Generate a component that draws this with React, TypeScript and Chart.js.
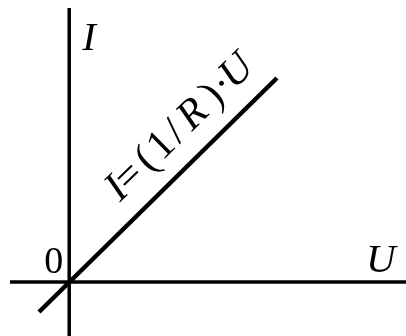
import { useEffect, useRef } from "react";
import { Chart, registerables } from "chart.js";

Chart.register(...registerables);

// Axis ranges (abstract units)
const uRange = [-1.5, 7.3];
const iRange = [-1.17, 6.11];

// Axis lines
const uAxisU = [-1.283, 7.3];
const uAxisI = [0, 0];
const iAxisU = [0, 0];
const iAxisI = [-1.17, 5.937];

// Characteristic line I = (1/R)·U
const lineU = [-0.655, 4.503];
const lineI = [-0.65, 4.42];

// Texts
const axisLabelU = "U";
const axisLabelI = "I";
const originLabel = "0";
const formulaParts = ["I", "=", "(", "1", "/", "R", ")", "·", "U"];
const formulaItalic = [true, false, false, false, false, true, false, false, true];

const FAMILY = "'Liberation Serif', 'Times New Roman', serif";

const pts = (xs: number[], ys: number[]) => xs.map((x, k) => ({ x, y: ys[k] }));

export default function App() {
  const ref = useRef<HTMLCanvasElement | null>(null);

  useEffect(() => {
    document.body.style.margin = "0";
    const canvas = ref.current;
    if (!canvas) return;

    const labelsPlugin = {
      id: "labelsPlugin",
      afterDatasetsDraw(c: any) {
        const ctx = c.ctx as CanvasRenderingContext2D;
        const xs = c.scales.x;
        const ys = c.scales.y;
        const ox = xs.getPixelForValue(0);
        const oy = ys.getPixelForValue(0);
        ctx.save();
        ctx.fillStyle = "#000";
        ctx.textBaseline = "alphabetic";

        // Axis labels
        ctx.font = "italic 41px " + FAMILY;
        ctx.textAlign = "left";
        ctx.fillText(axisLabelI, ox + 13, 50);
        ctx.fillText(axisLabelU, 366, oy - 10);
        ctx.font = "38px " + FAMILY;
        ctx.textAlign = "right";
        ctx.fillText(originLabel, ox - 6, oy - 9);

        // Formula along the line
        const x1 = xs.getPixelForValue(lineU[0]);
        const y1 = ys.getPixelForValue(lineI[0]);
        const x2 = xs.getPixelForValue(lineU[1]);
        const y2 = ys.getPixelForValue(lineI[1]);
        const ang = Math.atan2(y2 - y1, x2 - x1);
        const dx = Math.cos(ang);
        const dy = Math.sin(ang);
        const upx = dy;
        const upy = -dx;
        const along = 92;
        const off = 21;
        const px = ox + dx * along + upx * off;
        const py = oy + dy * along + upy * off;
        ctx.translate(px, py);
        ctx.rotate(ang);
        ctx.textAlign = "left";
        const pos = [0, 13, 42, 59, 83, 101, 134, 149, 160];
        formulaParts.forEach((t, k) => {
          ctx.font = (formulaItalic[k] ? "italic " : "") + "42px " + FAMILY;
          ctx.fillText(t, pos[k], 0);
        });
        ctx.restore();
      },
    };

    const chart = new Chart(canvas, {
      type: "scatter",
      data: {
        datasets: [
          {
            data: pts(uAxisU, uAxisI),
            showLine: true,
            borderColor: "#000",
            borderWidth: 3.5,
            pointRadius: 0,
            clip: false as any,
          },
          {
            data: pts(iAxisU, iAxisI),
            showLine: true,
            borderColor: "#000",
            borderWidth: 3.5,
            pointRadius: 0,
            clip: false as any,
          },
          {
            data: pts(lineU, lineI),
            showLine: true,
            borderColor: "#000",
            borderWidth: 4.5,
            pointRadius: 0,
            clip: false as any,
          },
        ],
      },
      options: {
        animation: false,
        responsive: false,
        maintainAspectRatio: false,
        layout: { padding: 0 },
        scales: {
          x: { type: "linear", min: uRange[0], max: uRange[1], display: false },
          y: { type: "linear", min: iRange[0], max: iRange[1], display: false },
        },
        plugins: {
          legend: { display: false },
          tooltip: { enabled: false },
        },
      },
      plugins: [labelsPlugin],
    });

    return () => {
      chart.destroy();
    };
  }, []);

  return (
    <div style={{ width: 406, height: 336, background: "#fff" }}>
      <canvas ref={ref} width={406} height={336} style={{ display: "block" }} />
    </div>
  );
}
